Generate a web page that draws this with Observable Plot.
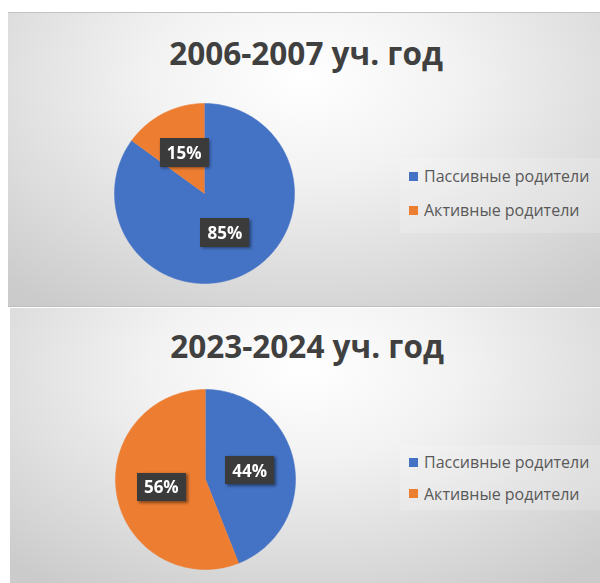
<!DOCTYPE html>
<html><head><meta charset="utf-8">
<script src="https://cdn.jsdelivr.net/npm/d3@7"></script>
<script src="https://cdn.jsdelivr.net/npm/@observablehq/plot@0.6"></script>
<style>
html,body{margin:0;padding:0;background:#fff;}
#root{position:relative;width:600px;height:583px;overflow:hidden;font-family:"Open Sans",sans-serif;}
.panel{position:absolute;overflow:hidden;background:radial-gradient(ellipse 75% 95% at 50% 22%, #ffffff 0%, #f2f2f2 35%, #dcdcdc 72%, #cbcbcb 100%);}
.title{position:absolute;left:4px;right:0;text-align:center;font-weight:700;font-size:31.5px;line-height:30px;color:#404040;white-space:nowrap;font-family:"Open Sans",sans-serif;}
.pie{position:absolute;width:200px;height:200px;}
.legwrap{position:absolute;background:rgba(255,255,255,0.18);box-sizing:border-box;}
.legwrap .lg-swatches{font-family:"Open Sans",sans-serif !important;font-size:16px !important;color:#595959 !important;margin:0 !important;min-height:0 !important;}
.legwrap .lg-swatch{display:flex;align-items:center;padding:0 !important;margin:0 !important;}
.legwrap .lg-swatch > svg{margin-right:6px !important;}
</style>
</head><body>
<div id="root"></div>
<script>
// ---- data ----
const categories = ["Пассивные родители", "Активные родители"];
const colors = ["#4472C4", "#ED7D31"];
const titles = ["2006-2007 уч. год", "2023-2024 уч. год"];
const values2006 = [85, 15];
const values2023 = [44, 56];

// ---- layout ----
const panels = [
  {values: values2006, title: titles[0], left: 8, top: 12, width: 592, height: 295, titleTop: 25.4,
   pieLeft: 96, pieTop: 80, legLeft: 392, legTop: 145, legH: 75, legPad: 1, rowH: 34, border: true},
  {values: values2023, title: titles[1], left: 10, top: 308, width: 590, height: 275, titleTop: 23.4,
   pieLeft: 95, pieTop: 71, legLeft: 390, legTop: 137, legH: 65, legPad: 1.5, rowH: 31.5, border: false}
];

const root = document.getElementById("root");
const R = 90;

panels.forEach((p, idx) => {
  const panel = document.createElement("div");
  panel.className = "panel";
  Object.assign(panel.style, {left: p.left + "px", top: p.top + "px", width: p.width + "px", height: p.height + "px"});
  if (p.border) { panel.style.borderTop = "1px solid #c2c2c2"; panel.style.borderBottom = "1px solid #bdbdbd"; panel.style.boxSizing = "border-box"; }
  root.appendChild(panel);

  const title = document.createElement("div");
  title.className = "title";
  title.style.top = p.titleTop + "px";
  title.textContent = p.title;
  panel.appendChild(title);

  // pie geometry from data
  const rows = categories.map((c, i) => ({category: c, value: p.values[i]}));
  const arcs = d3.pie().sort(null).value(d => d.value)(rows);
  const pts = arcs.flatMap(a => {
    const n = Math.max(2, Math.ceil((a.endAngle - a.startAngle) / (Math.PI / 180)));
    const out = [{category: a.data.category, x: 0, y: 0}];
    for (let k = 0; k <= n; k++) {
      const t = a.startAngle + (a.endAngle - a.startAngle) * k / n;
      out.push({category: a.data.category, x: R * Math.sin(t), y: R * Math.cos(t)});
    }
    return out;
  });
  const labels = arcs.map(a => {
    const m = (a.startAngle + a.endAngle) / 2;
    return {text: a.data.value + "%", x: 0.5 * R * Math.sin(m), y: 0.5 * R * Math.cos(m)};
  });

  const svg = Plot.plot({
    width: 200, height: 200, margin: 0,
    x: {domain: [-100, 100], axis: null},
    y: {domain: [-100, 100], axis: null},
    color: {domain: categories, range: colors},
    style: {background: "transparent", overflow: "visible"},
    marks: [
      Plot.line(pts, {x: "x", y: "y", z: "category", fill: "category", stroke: "category", strokeWidth: 0.5}),
      Plot.text(labels, {x: "x", y: "y", text: "text", fill: "white", fontSize: 17, fontWeight: "bold", fontFamily: "Open Sans"})
    ]
  });
  const fid = "lbl" + idx;
  d3.select(svg).insert("defs", ":first-child").html(
    `<filter id="${fid}" x="-0.5" y="-0.5" width="2" height="2" primitiveUnits="objectBoundingBox" color-interpolation-filters="sRGB">
      <feFlood x="-0.19" y="-0.1" width="1.38" height="1.2" flood-color="#3b3b3b" result="bg"/>
      <feFlood x="-0.14" y="-0.03" width="1.38" height="1.2" flood-color="#000" flood-opacity="0.45" result="sh0"/>
      <feGaussianBlur in="sh0" x="-0.5" y="-0.5" width="2" height="2" stdDeviation="0.04 0.07" result="sh"/>
      <feMerge x="-0.5" y="-0.5" width="2" height="2"><feMergeNode in="sh"/><feMergeNode in="bg"/><feMergeNode in="SourceGraphic"/></feMerge>
    </filter>`);
  d3.select(svg).selectAll("g[aria-label='text'] text").attr("filter", `url(#${fid})`);
  svg.classList.add("pie");
  svg.style.position = "absolute";
  svg.style.left = p.pieLeft + "px";
  svg.style.top = p.pieTop + "px";
  panel.appendChild(svg);

  const wrap = document.createElement("div");
  wrap.className = "legwrap";
  Object.assign(wrap.style, {left: p.legLeft + "px", top: p.legTop + "px", width: "200px", height: p.legH + "px", paddingLeft: "9px", paddingTop: p.legPad + "px"});
  const leg = Plot.legend({
    color: {type: "ordinal", domain: categories, range: colors},
    legend: "swatches", columns: 1, swatchSize: 9, className: "lg"
  });
  wrap.appendChild(leg);
  wrap.querySelectorAll(".lg-swatch").forEach(s => { s.style.height = p.rowH + "px"; });
  panel.appendChild(wrap);
});
</script>
</body></html>
